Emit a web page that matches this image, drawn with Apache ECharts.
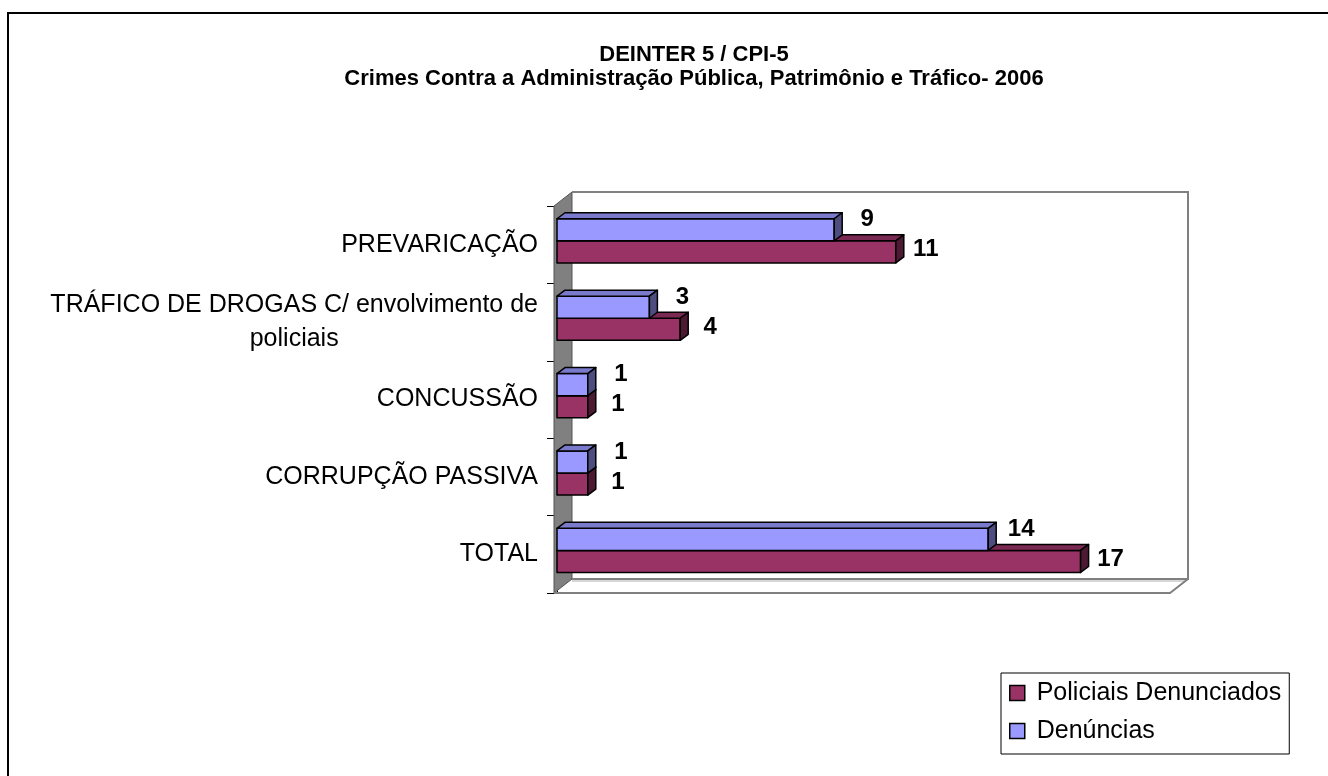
<!DOCTYPE html>
<html>
<head>
<meta charset="utf-8">
<script src="https://cdn.jsdelivr.net/npm/echarts@6/dist/echarts.min.js"></script>
<style>
  html, body { margin: 0; padding: 0; background: #fff; }
  #main { width: 1328px; height: 776px; }
</style>
</head>
<body>
<div id="main"></div>
<script>
// chart data
const categories = [
  'PREVARICAÇÃO',
  'TRÁFICO DE DROGAS C/ envolvimento de\npoliciais',
  'CONCUSSÃO',
  'CORRUPÇÃO PASSIVA',
  'TOTAL'
];
const policiais = [11, 4, 1, 1, 17];
const denuncias = [9, 3, 1, 1, 14];
const seriesNames = ['Policiais Denunciados', 'Denúncias'];
const titleLines = [
  'DEINTER 5 / CPI-5',
  'Crimes Contra a Administração Pública, Patrimônio e Tráfico- 2006'
];
const valueMax = 20;

const FONT = '"Liberation Sans", Arial, sans-serif';
// bar depth (3d look)
const DX = 8, DY = -6;
// back wall depth
const WX = 18, WY = -14;

const redFaces = ['#993366', '#7a2952', '#4d1a33'];
const blueFaces = ['#9999ff', '#7a7acc', '#4d4d80'];

function barRenderer(faces, upper, labelDx, labelDy) {
  return function (params, api) {
    const i = api.value(1);
    const v = api.value(0);
    const start = api.coord([0, i]);
    const end = api.coord([v, i]);
    const band = api.size([0, 1])[1];
    const h = band * 0.285;
    const yMid = start[1] - band * 0.05;
    const yTop = upper ? yMid - h : yMid;
    const yBot = yTop + h;
    const x0 = start[0], x1 = end[0];
    const edge = { stroke: '#000', lineWidth: 1.5, lineJoin: 'round' };
    return {
      type: 'group',
      children: [
        { type: 'rect', shape: { x: x0, y: yTop, width: x1 - x0, height: h },
          style: Object.assign({ fill: faces[0] }, edge) },
        { type: 'polygon', shape: { points: [[x0, yTop], [x0 + DX, yTop + DY], [x1 + DX, yTop + DY], [x1, yTop]] },
          style: Object.assign({ fill: faces[1] }, edge) },
        { type: 'polygon', shape: { points: [[x1, yTop], [x1 + DX, yTop + DY], [x1 + DX, yBot + DY], [x1, yBot]] },
          style: Object.assign({ fill: faces[2] }, edge) },
        { type: 'text', x: x1 + labelDx, y: yTop + labelDy,
          style: { text: String(v), font: 'bold 24px ' + FONT, fill: '#000',
                   align: 'center', verticalAlign: 'middle',
                   textAlign: 'center', textVerticalAlign: 'middle' } }
      ]
    };
  };
}

// walls and floor of the 3d box
function frameRenderer(params, api) {
  const cs = params.coordSys;
  const fx0 = cs.x - 3, fy0 = cs.y;
  const fx1 = cs.x + cs.width - 3, fy1 = cs.y + cs.height;
  const gray = { stroke: '#808080', lineWidth: 2, fill: null };
  return {
    type: 'group',
    children: [
      { type: 'polygon', shape: { points: [[fx0, fy0], [fx0 + WX, fy0 + WY], [fx0 + WX, fy1 + WY], [fx0, fy1]] },
        style: { fill: '#808080', stroke: '#555', lineWidth: 1 } },
      { type: 'polyline', shape: { points: [[fx0 + WX, fy1 + WY + 2], [fx1 + WX - 2, fy1 + WY + 2]] },
        style: { stroke: '#c8c8c8', lineWidth: 1.5, fill: null } },
      { type: 'polyline', shape: { points: [[fx0 + WX, fy0 + WY], [fx1 + WX, fy0 + WY], [fx1 + WX, fy1 + WY], [fx0 + WX, fy1 + WY]] },
        style: gray },
      { type: 'polyline', shape: { points: [[fx0, fy1], [fx1, fy1], [fx1 + WX, fy1 + WY]] },
        style: gray }
    ]
  };
}

const chart = echarts.init(document.getElementById('main'));

const option = {
  backgroundColor: '#fff',
  animation: false,
  graphic: [
    { type: 'rect', shape: { x: 8, y: 13, width: 1400, height: 800 },
      style: { fill: null, stroke: '#000', lineWidth: 2 }, z: -10 },
    { type: 'text', x: 694, y: 55,
      style: { text: titleLines[0], font: 'bold 22px ' + FONT, fill: '#000', align: 'center', verticalAlign: 'middle' } },
    { type: 'text', x: 694, y: 79,
      style: { text: titleLines[1], font: 'bold 22px ' + FONT, fill: '#000', align: 'center', verticalAlign: 'middle' } }
  ],
  legend: {
    data: seriesNames,
    orient: 'vertical',
    left: 1001,
    top: 673,
    padding: [7, 8, 10, 8],
    itemGap: 12,
    itemWidth: 15,
    itemHeight: 15,
    icon: 'rect',
    borderColor: '#000',
    borderWidth: 1,
    itemStyle: { borderColor: '#000', borderWidth: 1.5 },
    formatter: function (name) { return ' ' + name; },
    textStyle: { fontFamily: FONT, fontSize: 25, lineHeight: 26, color: '#000' }
  },
  grid: { left: 557, right: 155, top: 206, bottom: 183 },
  xAxis: {
    type: 'value',
    min: 0,
    max: valueMax,
    show: false
  },
  yAxis: {
    type: 'category',
    data: categories,
    inverse: true,
    offset: 3,
    axisLine: { show: true, lineStyle: { color: '#000', width: 1 } },
    axisTick: { show: true, length: 10, lineStyle: { color: '#000' } },
    splitLine: { show: false },
    axisLabel: {
      margin: 16,
      color: '#000',
      fontFamily: FONT,
      fontSize: 25,
      formatter: function (v) {
        return v.split('\n').map(function (s) { return '{c|' + s + '}'; }).join('\n');
      },
      rich: {
        c: { align: 'center', fontFamily: FONT, fontSize: 25, lineHeight: 34, color: '#000' }
      }
    }
  },
  series: [
    {
      name: 'frame',
      type: 'custom',
      z: 1,
      silent: true,
      renderItem: frameRenderer,
      data: [[0, 0]]
    },
    {
      name: seriesNames[0],
      type: 'custom',
      z: 2,
      itemStyle: { color: redFaces[0] },
      renderItem: barRenderer(redFaces, false, 30, 9),
      encode: { x: 0, y: 1 },
      data: policiais.map(function (v, i) { return [v, i]; })
    },
    {
      name: seriesNames[1],
      type: 'custom',
      z: 3,
      itemStyle: { color: blueFaces[0] },
      renderItem: barRenderer(blueFaces, true, 33, 1),
      encode: { x: 0, y: 1 },
      data: denuncias.map(function (v, i) { return [v, i]; })
    }
  ]
};

chart.setOption(option);
</script>
</body>
</html>
